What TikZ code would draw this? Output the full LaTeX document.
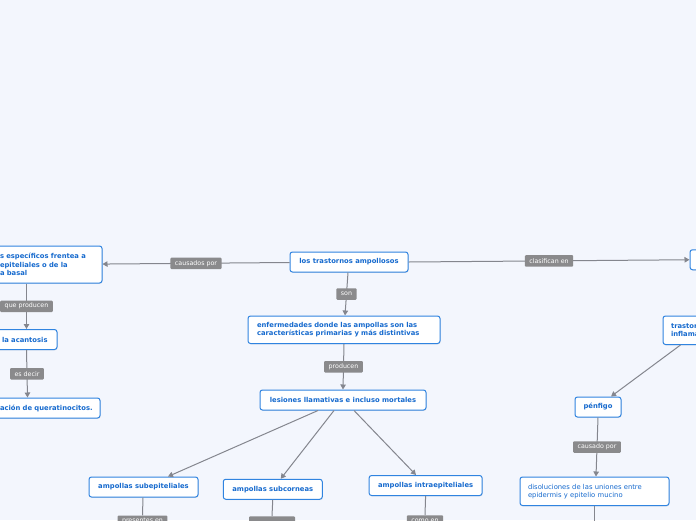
\documentclass[tikz,border=0pt]{standalone}
\usepackage{fontspec}
\setmainfont{DejaVu Sans}
\usetikzlibrary{arrows.meta,calc,shadows}
\definecolor{bg}{RGB}{243,246,253}
\definecolor{nodeborder}{RGB}{48,132,224}
\definecolor{nodetext}{RGB}{22,106,206}
\definecolor{edgegray}{RGB}{132,134,142}
\definecolor{labgray}{RGB}{138,138,140}
\tikzset{
  box/.style={draw=nodeborder, fill=white, line width=1pt, rounded corners=2.5pt,
    text=nodetext, font=\fontsize{6.8}{8.7}\selectfont\bfseries,
    inner ysep=2pt, drop shadow={shadow xshift=0.6pt, shadow yshift=-0.8pt, opacity=0.18}},
  sbox/.style={box, minimum height=20pt, inner xsep=0pt, align=center},
  tbox/.style={box, align=left, inner xsep=#1},
  lab/.style={fill=labgray, text=white, rounded corners=1pt, font=\fontsize{6.3}{7}\selectfont,
    inner xsep=4.5pt, inner ysep=0pt, minimum height=11.5pt},
  conn/.style={draw=edgegray, line width=1pt},
  arr/.style={conn, -{Triangle[length=5pt,width=5.5pt]}},
}
\begin{document}
\begin{tikzpicture}[x=1pt,y=-1pt]
\useasboundingbox (0,0) rectangle (696,520);
\fill[bg] (0,0) rectangle (696,520);

% main nodes
\node[sbox, minimum width=118pt] (n0) at (349,262) {los trastornos ampollosos};
\node[tbox=4pt, text width=98pt, minimum height=37pt] (nl) at (49,264.5)
  {s específicos frentea a\\epiteliales o de la\\a basal};
\node[tbox=6pt, text width=49pt, minimum height=20pt] (na) at (26.5,339.5) {la acantosis};
\node[tbox=5pt, text width=95pt, minimum height=20pt] (nq) at (47.5,408) {ación de queratinocitos.};
\node[tbox=9pt, text width=174pt, minimum height=27.5pt] (n5) at (344,329.75)
  {enfermedades donde las ampollas son las\\características primarias y más distintivas};
\node[sbox, minimum width=166pt] (n6) at (343,400) {lesiones llamativas e incluso mortales};
\node[sbox, minimum width=109pt] (n7) at (143.5,487) {ampollas subepiteliales};
\node[sbox, minimum width=99pt] (n8) at (272.75,489.25) {ampollas subcorneas};
\node[sbox, minimum width=113pt] (n9) at (425.6,485.5) {ampollas intraepiteliales};
\node[sbox, minimum width=46pt] (n10) at (598,407) {pénfigo};
\node[tbox=8pt, text width=133pt, minimum height=28.5pt,
  font=\fontsize{6.8}{8.2}\selectfont] (n11) at (594.5,491.25)
  {disoluciones de las uniones entre\\epidermis y epitelio mucino};
\node[tbox=8pt, text width=60pt, minimum height=28.5pt] (n12) at (701,330.25)
  {trastornos\\inflamatorios};
\node[sbox, minimum width=60pt] (n13) at (720,259.75) {};

% connectors
\draw[arr] (n0) -- node[lab] {causados por} (nl);
\draw[arr] (n0.east) -- node[lab] {clasifican en} (n13.west);
\draw[arr] ([xshift=-1pt]n0.south) -- node[lab] {son} ([xshift=1pt]n5.north);
\draw[arr] (n5.south) -- node[lab] {producen} (n6.north);
\draw[arr] (nl.south -| na.north) -- node[lab] {que producen} (na.north);
\draw[arr] (na.south) -- node[lab] {es decir} ([xshift=1pt]na.south |- nq.north);
\draw[arr] ([xshift=-25pt]n6.south) -- ([xshift=24.5pt]n7.north);
\draw[arr] ([xshift=-9pt]n6.south) -- ([xshift=8pt]n8.north);
\draw[arr] ([xshift=11pt]n6.south) -- ([xshift=-9.6pt]n9.north);
\draw[arr] ([xshift=18pt]n12.south west) -- ([xshift=13pt]n10.north);
\draw[arr] (n10.south) -- node[lab] {causado por} ([xshift=1.5pt]n11.north);

% stubs leaving the page
\coordinate (c7) at (143,560);
\coordinate (c8) at (272.5,560);
\coordinate (c9) at (425.5,560);
\coordinate (c11) at (595,560);
\node[lab] (l7) at (142.5,521.25) {presentes en};
\node[lab, minimum width=46pt] (l8) at (272,522) {};
\node[lab] (l9) at (425,521) {como en};
\draw[conn] ([xshift=-0.5pt]n7.south) -- (l7.north);
\draw[conn] (n8.south) -- (l8.north);
\draw[conn] (n9.south) -- (l9.north);
\draw[conn] (l7) -- (c7);
\draw[conn] (l8) -- (c8);
\draw[conn] (l9) -- (c9);
\draw[conn] (n11.south |- c11) -- (n11.south);
\end{tikzpicture}
\end{document}
